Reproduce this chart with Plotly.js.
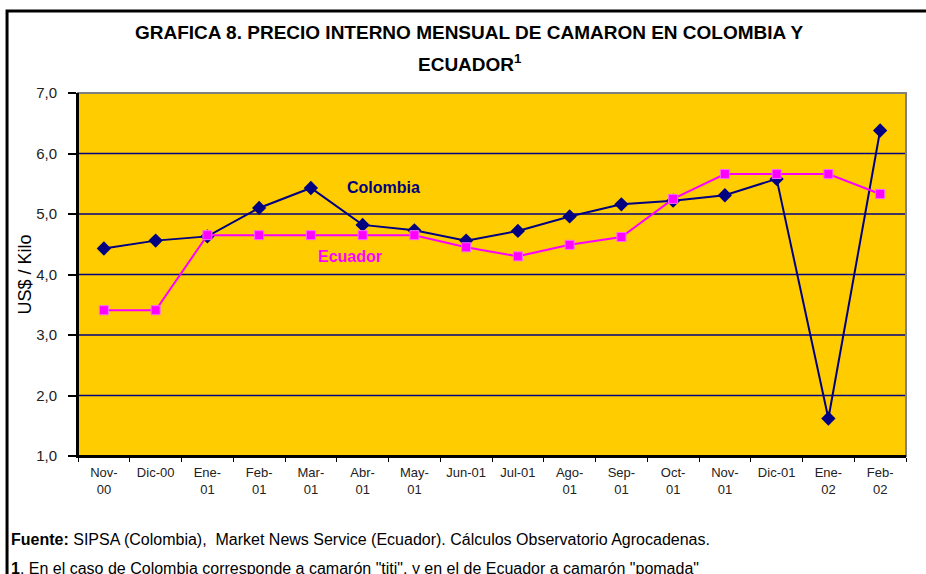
<!DOCTYPE html>
<html>
<head>
<meta charset="utf-8">
<script src="https://cdn.plot.ly/plotly-3.0.1.min.js"></script>
<style>html,body{margin:0;padding:0;background:#fff;}#chart{width:926px;height:574px;}</style>
</head>
<body>
<div id="chart"></div>
<script>
var categories = ["Nov-00","Dic-00","Ene-01","Feb-01","Mar-01","Abr-01","May-01","Jun-01","Jul-01","Ago-01","Sep-01","Oct-01","Nov-01","Dic-01","Ene-02","Feb-02"];
var tickLabels = ["Nov-<br>00","Dic-00","Ene-<br>01","Feb-<br>01","Mar-<br>01","Abr-<br>01","May-<br>01","Jun-01","Jul-01","Ago-<br>01","Sep-<br>01","Oct-<br>01","Nov-<br>01","Dic-01","Ene-<br>02","Feb-<br>02"];
var colombia = [4.43,4.56,4.63,5.10,5.43,4.82,4.73,4.56,4.72,4.96,5.16,5.22,5.31,5.58,1.62,6.38];
var ecuador  = [3.41,3.41,4.65,4.65,4.65,4.65,4.65,4.45,4.30,4.49,4.62,5.25,5.66,5.66,5.66,5.33];
var yTicks = [1,2,3,4,5,6,7];
var yTickText = ["1,0","2,0","3,0","4,0","5,0","6,0","7,0"];

var traces = [
  {x: categories, y: colombia, type: 'scatter', mode: 'lines+markers', name: 'Colombia',
   line: {color: '#000080', width: 2}, marker: {symbol: 'diamond', size: 11, color: '#000080'}},
  {x: categories, y: ecuador, type: 'scatter', mode: 'lines+markers', name: 'Ecuador',
   line: {color: '#FF00FF', width: 2}, marker: {symbol: 'square', size: 9, color: '#FF00FF', line: {color: '#FF66FF', width: 1}}}
];

var gridShapes = [2,3,4,5,6].map(function(v){
  return {type:'line', xref:'paper', yref:'y', x0:0, x1:1, y0:v, y1:v, line:{color:'#000080', width:1.5}, layer:'below'};
});

var titleFont = {family: '"Liberation Sans Narrow", "Arial Narrow", "Liberation Sans", Arial, sans-serif', size: 19, color: '#000'};
var noteFont = {size: 16, color: '#000', family: '"Liberation Sans Narrow", "Arial Narrow", "Liberation Sans", Arial, sans-serif'};

var layout = {
  width: 926, height: 574,
  margin: {l: 78, r: 20, t: 93, b: 118},
  paper_bgcolor: '#ffffff',
  plot_bgcolor: '#FFCC00',
  showlegend: false,
  font: {family: '"Liberation Sans", Arial, sans-serif', color: '#000'},
  xaxis: {
    type: 'category', range: [-0.5, 15.5], tickmode: 'array', tickvals: categories, ticktext: tickLabels,
    showgrid: false, zeroline: false, showline: true, linecolor: '#000', linewidth: 2,
    ticks: 'outside', ticklen: 4, tickcolor: '#000', tickson: 'boundaries',
    tickfont: {size: 13, color: '#222'}, fixedrange: true, tickangle: 0, ticklabelstandoff: 3
  },
  yaxis: {
    range: [1, 7], tickmode: 'array', tickvals: yTicks, ticktext: yTickText,
    showgrid: false, zeroline: false, showline: true, linecolor: '#000', linewidth: 2,
    ticks: 'outside', ticklen: 8, tickcolor: '#000', tickwidth: 2, ticklabelstandoff: 8,
    tickfont: {size: 15, color: '#222'},
    title: {text: 'US$ / Kilo', font: {size: 18, color: '#000'}, standoff: 0}
  },
  shapes: gridShapes.concat([
    {type:'rect', xref:'paper', yref:'paper', x0:0, x1:1, y0:0, y1:1, line:{color:'#808080', width:2}, layer:'below'},
    {type:'line', xref:'paper', yref:'paper', x0:0, x1:0, y0:0, y1:1, line:{color:'#000', width:2}},
    {type:'line', xref:'paper', yref:'paper', x0:0, x1:1, y0:0, y1:0, line:{color:'#000', width:2}},
    {type:'rect', xref:'paper', yref:'paper', x0:-0.0857, x1:1.1, y0:-0.5, y1:1.2259, line:{color:'#000', width:3}}
  ]),
  annotations: [
    {text:'<b>GRAFICA 8. PRECIO INTERNO MENSUAL DE CAMARON EN COLOMBIA Y</b>', xref:'paper', yref:'paper',
     x:0.4734, y:1.168, xanchor:'center', yanchor:'middle', showarrow:false, font: titleFont},
    {text:'<b>ECUADOR<sup>1</sup></b>', xref:'paper', yref:'paper',
     x:0.4734, y:1.082, xanchor:'center', yanchor:'middle', showarrow:false, font: titleFont},
    {text:'<b>Colombia</b>', x:5.4, y:5.43, xref:'x', yref:'y', showarrow:false, xanchor:'center', yanchor:'middle',
     font:{size:16, color:'#000080'}},
    {text:'<b>Ecuador</b>', x:4.75, y:4.3, xref:'x', yref:'y', showarrow:false, xanchor:'center', yanchor:'middle',
     font:{size:16, color:'#FF00FF'}},
    {text:'<b>Fuente:</b> SIPSA (Colombia),  Market News Service (Ecuador). Cálculos Observatorio Agrocadenas.',
     xref:'paper', yref:'paper', x:-0.083, y:-0.231, xanchor:'left', yanchor:'middle', showarrow:false, font: noteFont},
    {text:'<b>1</b>. En el caso de Colombia corresponde a camarón "titi", y en el de Ecuador a camarón "pomada"',
     xref:'paper', yref:'paper', x:-0.083, y:-0.309, xanchor:'left', yanchor:'middle', showarrow:false, font: noteFont}
  ]
};

Plotly.newPlot('chart', traces, layout, {staticPlot: true, displayModeBar: false});
</script>
</body>
</html>
